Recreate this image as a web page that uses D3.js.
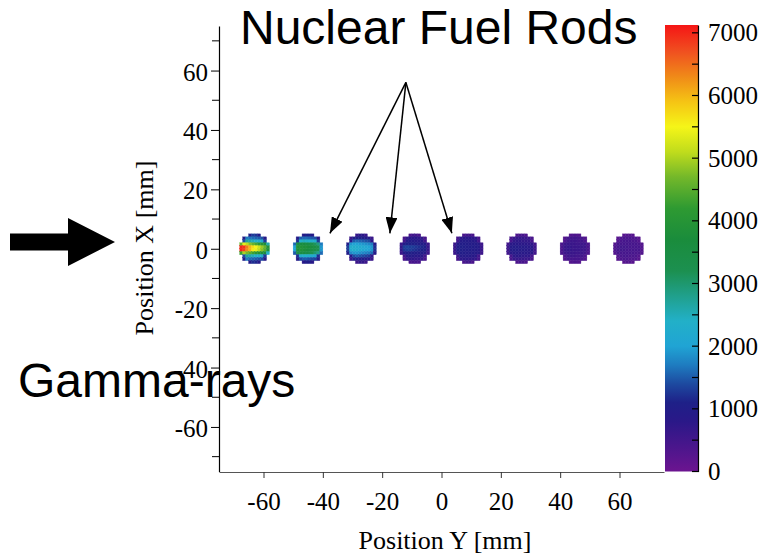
<!DOCTYPE html>
<html>
<head>
<meta charset="utf-8">
<script src="https://cdn.jsdelivr.net/npm/d3@7"></script>
<style>
  html, body { margin: 0; padding: 0; background: #fff; }
  svg { display: block; }
</style>
</head>
<body>
<svg id="chart" width="763" height="557"></svg>
<script>
// Rod centres along Y [mm]; every rod sits at X = 0
const rodCentersY = [-63, -45, -27, -9, 9, 27, 45, 63];
const rodCenterX = 0;
const binSize = 1; // mm per pixel of the 2D histogram
const rodBins = 10; // bins across a rod

// Counts per rod: rows from +X (top) to -X (bottom), each row centred on the rod
const rod1 = [
  [1000, 1300, 1250, 950],
  [1000, 1700, 1650, 1600, 1550, 1500, 1450, 900],
  [1400, 2700, 2600, 2500, 2400, 2300, 2200, 1300],
  [4600, 5400, 5100, 4800, 4600, 4400, 4200, 4000, 3800, 2600],
  [7000, 6900, 6400, 6000, 5700, 5500, 5200, 4900, 4600, 3900],
  [7000, 6800, 6300, 6000, 5600, 5400, 5100, 4800, 4500, 3800],
  [4300, 5000, 4700, 4500, 4300, 4100, 3900, 3800, 3600, 2400],
  [1400, 2700, 2600, 2500, 2400, 2300, 2200, 1300],
  [1000, 1700, 1600, 1550, 1500, 1450, 1400, 900],
  [950, 1200, 1150, 900]
];
const rod2 = [
  [900, 1100, 1100, 900],
  [900, 1500, 1600, 1600, 1550, 1500, 1450, 900],
  [1200, 2400, 2500, 2450, 2400, 2350, 2300, 1300],
  [1600, 3400, 3600, 3600, 3500, 3400, 3300, 3100, 2900, 1700],
  [2000, 3900, 3900, 3800, 3800, 3700, 3600, 3500, 3300, 1900],
  [2000, 3800, 3900, 3800, 3700, 3600, 3500, 3400, 3200, 1900],
  [1500, 3300, 3500, 3500, 3400, 3300, 3200, 3000, 2800, 1600],
  [1200, 2300, 2400, 2400, 2300, 2200, 2100, 1200],
  [900, 1400, 1500, 1500, 1450, 1400, 1350, 900],
  [850, 1000, 1000, 850]
];
const rod3 = [
  [650, 800, 800, 650],
  [600, 1000, 1100, 1100, 1050, 1000, 950, 600],
  [800, 1500, 1600, 1550, 1500, 1450, 1400, 800],
  [1000, 1900, 2000, 2000, 1950, 1900, 1850, 1800, 1700, 1000],
  [1300, 2300, 2300, 2250, 2200, 2150, 2100, 2000, 1900, 1200],
  [1300, 2200, 2300, 2250, 2200, 2100, 2050, 2000, 1900, 1200],
  [1000, 1800, 1900, 1900, 1850, 1800, 1750, 1700, 1600, 900],
  [800, 1400, 1500, 1450, 1400, 1350, 1300, 700],
  [600, 1000, 1050, 1000, 1000, 950, 900, 600],
  [550, 700, 700, 550]
];
const rod4 = [
  [400, 500, 500, 400],
  [400, 700, 800, 800, 800, 750, 700, 400],
  [500, 900, 950, 950, 900, 900, 850, 500],
  [600, 1000, 1100, 1100, 1050, 1050, 1000, 1000, 950, 600],
  [700, 1300, 1350, 1300, 1300, 1250, 1200, 1150, 1100, 650],
  [700, 1250, 1300, 1300, 1250, 1200, 1150, 1100, 1050, 650],
  [600, 1000, 1050, 1050, 1000, 1000, 950, 950, 900, 550],
  [500, 850, 900, 900, 850, 850, 800, 500],
  [400, 700, 750, 750, 700, 700, 650, 400],
  [400, 450, 450, 400]
];
const rod5 = [
  [400, 500, 500, 400],
  [450, 750, 800, 800, 800, 750, 750, 450],
  [550, 900, 950, 950, 900, 900, 850, 500],
  [600, 950, 1000, 1000, 1000, 950, 950, 950, 900, 550],
  [650, 1000, 1050, 1050, 1000, 1000, 1000, 950, 950, 600],
  [650, 1000, 1050, 1000, 1000, 1000, 950, 950, 900, 600],
  [600, 950, 1000, 1000, 950, 950, 950, 900, 900, 550],
  [550, 900, 900, 900, 900, 850, 850, 500],
  [450, 750, 800, 800, 750, 750, 700, 450],
  [400, 500, 500, 400]
];
const rod6 = [
  [350, 450, 450, 350],
  [400, 600, 650, 650, 650, 600, 600, 400],
  [450, 700, 750, 750, 700, 700, 700, 450],
  [500, 800, 850, 850, 800, 800, 800, 750, 750, 500],
  [550, 900, 950, 950, 900, 900, 900, 850, 850, 550],
  [550, 900, 950, 950, 900, 900, 850, 850, 850, 550],
  [500, 850, 900, 900, 850, 850, 850, 800, 800, 500],
  [450, 750, 800, 800, 750, 750, 750, 450],
  [400, 650, 650, 650, 650, 600, 600, 400],
  [350, 450, 450, 350]
];
const rod7 = [
  [300, 350, 350, 300],
  [300, 450, 500, 500, 500, 450, 450, 300],
  [350, 500, 550, 550, 550, 500, 500, 350],
  [400, 550, 600, 600, 600, 550, 550, 550, 550, 400],
  [400, 600, 650, 650, 600, 600, 600, 600, 550, 400],
  [400, 600, 650, 650, 600, 600, 600, 550, 550, 400],
  [400, 550, 600, 600, 600, 550, 550, 550, 500, 350],
  [350, 500, 550, 550, 500, 500, 500, 350],
  [300, 450, 450, 450, 450, 450, 400, 300],
  [300, 350, 350, 300]
];
const rod8 = [
  [250, 300, 300, 250],
  [250, 350, 400, 400, 400, 350, 350, 250],
  [300, 400, 450, 450, 450, 400, 400, 300],
  [300, 450, 450, 450, 450, 450, 450, 450, 400, 300],
  [350, 450, 500, 500, 500, 450, 450, 450, 450, 300],
  [350, 450, 500, 500, 450, 450, 450, 450, 450, 300],
  [300, 450, 450, 450, 450, 450, 450, 400, 400, 300],
  [300, 400, 450, 450, 400, 400, 400, 300],
  [250, 350, 400, 400, 350, 350, 350, 250],
  [250, 300, 300, 250]
];
const rodCounts = [rod1, rod2, rod3, rod4, rod5, rod6, rod7, rod8];

// Axis ticks
const xTickValues = [-60, -40, -20, 0, 20, 40, 60];
const yTickValues = [-60, -40, -20, 0, 20, 40, 60];
const yMinorTickValues = [-70, -50, -30, -10, 10, 30, 50, 70];
const zTickValues = [0, 1000, 2000, 3000, 4000, 5000, 6000, 7000];
const zMinorTickValues = [500, 1500, 2500, 3500, 4500, 5500, 6500];

// Palette stops (counts -> colour)
const paletteValues = [0, 400, 800, 1100, 1400, 1700, 2000, 2400, 2800, 3200, 3700, 4200, 4700, 5100, 5500, 5900, 6300, 6700, 7125];
const paletteColors = ["#6c1490", "#4a168c", "#2a1888", "#1e2088", "#1d4aa0", "#1e7cc0", "#20a4d4", "#22b0c8",
  "#20a08c", "#1c9050", "#1a8c3c", "#2e9a32", "#74b82a", "#c0dc1c", "#f5f518", "#f5c414", "#f08a18", "#f05020", "#f51515"];

// Annotation arrows toward the rods, in data units (Y, X)
const annotationStart = [-12, 56];
const annotationTargets = [[-37.6, 5.2], [-17.4, 5.2], [3.5, 5.2]];

const svg = d3.select("#chart");
const serif = "'Liberation Serif', 'Times New Roman', serif";
const sans = "'Liberation Sans', Arial, sans-serif";
const plainInt = d => String(d); // ASCII hyphen for negatives

const x = d3.scaleLinear().domain([-75, 75]).range([219, 664]);
const y = d3.scaleLinear().domain([-75, 75]).range([471.5, 26]);
const zMax = 7125;
const z = d3.scaleLinear().domain([0, zMax]).range([471.5, 25]);
const color = d3.scaleLinear().domain(paletteValues).range(paletteColors).interpolate(d3.interpolateRgb).clamp(true);

// Histogram cells
const cells = [];
rodCounts.forEach((rows, i) => {
  const cy = rodCentersY[i];
  rows.forEach((row, r) => {
    const offset = (rodBins - row.length) / 2;
    const xTop = rodCenterX + (rodBins / 2 - r) * binSize;
    row.forEach((v, c) => {
      const yLeft = cy - (rodBins / 2) * binSize + (offset + c) * binSize;
      cells.push({ y0: yLeft, y1: yLeft + binSize, x0: xTop - binSize, x1: xTop, v });
    });
  });
});

svg.append("g").selectAll("rect").data(cells).join("rect")
  .attr("x", d => x(d.y0))
  .attr("y", d => y(d.x1))
  .attr("width", d => x(d.y1) - x(d.y0))
  .attr("height", d => y(d.x0) - y(d.x1))
  .attr("fill", d => color(d.v))
  .attr("stroke", d => color(d.v))
  .attr("stroke-width", 0.4);

// Colour bar
const defs = svg.append("defs");
const grad = defs.append("linearGradient").attr("id", "zgrad")
  .attr("x1", 0).attr("y1", 1).attr("x2", 0).attr("y2", 0);
grad.selectAll("stop").data(paletteValues).join("stop")
  .attr("offset", d => d / zMax)
  .attr("stop-color", d => color(d));
svg.append("rect")
  .attr("x", 665).attr("y", z(zMax))
  .attr("width", 33).attr("height", z(0) - z(zMax))
  .attr("fill", "url(#zgrad)");

// X axis
const xAxis = svg.append("g").attr("transform", "translate(0,472)")
  .call(d3.axisBottom(x).tickValues(xTickValues).tickSize(6).tickSizeOuter(0).tickPadding(14).tickFormat(plainInt));
xAxis.select(".domain").attr("stroke", "#555").attr("stroke-width", 1.2);
xAxis.selectAll(".tick line").attr("stroke", "#333");
xAxis.selectAll("text").attr("font-family", serif).attr("font-size", 25).attr("fill", "#000");

// Y axis
const yAxis = svg.append("g").attr("transform", "translate(219,0)")
  .call(d3.axisLeft(y).tickValues(yTickValues).tickSize(8).tickSizeOuter(0).tickPadding(3).tickFormat(plainInt));
yAxis.select(".domain").attr("stroke", "#000").attr("stroke-width", 1.2);
yAxis.selectAll("text").attr("font-family", serif).attr("font-size", 25).attr("fill", "#000").attr("dy", "0.38em");
svg.append("g").attr("transform", "translate(219,0)")
  .selectAll("line").data(yMinorTickValues).join("line")
  .attr("x1", -7).attr("x2", 0)
  .attr("y1", d => y(d)).attr("y2", d => y(d))
  .attr("stroke", "#000");

// Colour bar axis
const zAxis = svg.append("g").attr("transform", "translate(698,0)")
  .call(d3.axisRight(z).tickValues(zTickValues).tickSize(0).tickSizeOuter(0).tickPadding(10).tickFormat(plainInt));
zAxis.select(".domain").attr("stroke", "#000").attr("stroke-width", 1.2);
zAxis.selectAll("text").attr("font-family", serif).attr("font-size", 25).attr("fill", "#000");
svg.append("g").attr("transform", "translate(698,0)")
  .selectAll("line").data(zTickValues.concat(zMinorTickValues)).join("line")
  .attr("x1", -6).attr("x2", 1)
  .attr("y1", d => z(d)).attr("y2", d => z(d))
  .attr("stroke", "#000").attr("stroke-width", 1.2);

// Axis titles
svg.append("text")
  .attr("x", 445).attr("y", 549)
  .attr("text-anchor", "middle")
  .attr("font-family", serif).attr("font-size", 26)
  .text("Position Y [mm]");
svg.append("text")
  .attr("transform", "translate(153,248) rotate(-90)")
  .attr("text-anchor", "middle")
  .attr("font-family", serif).attr("font-size", 26)
  .text("Position X [mm]");

// Annotation arrows
defs.append("marker").attr("id", "head")
  .attr("viewBox", "0 0 16 12").attr("refX", 16).attr("refY", 6)
  .attr("markerWidth", 16).attr("markerHeight", 12)
  .attr("markerUnits", "userSpaceOnUse")
  .attr("orient", "auto")
  .append("path").attr("d", "M0,0 L16,6 L0,12 Z").attr("fill", "#000");
svg.append("g").selectAll("line").data(annotationTargets).join("line")
  .attr("x1", x(annotationStart[0])).attr("y1", y(annotationStart[1]))
  .attr("x2", d => x(d[0])).attr("y2", d => y(d[1]))
  .attr("stroke", "#000").attr("stroke-width", 1.5)
  .attr("marker-end", "url(#head)");

// Incoming beam arrow
svg.append("path")
  .attr("d", "M10,233.5 L68,233.5 L68,218 L115,242 L68,266 L68,250.5 L10,250.5 Z")
  .attr("fill", "#000");

// Labels
svg.append("text")
  .attr("x", 240).attr("y", 44)
  .attr("font-family", sans).attr("font-size", 48).attr("fill", "#000")
  .text("Nuclear Fuel Rods");
svg.append("text")
  .attr("x", 18).attr("y", 397)
  .attr("font-family", sans).attr("font-size", 48).attr("fill", "#000")
  .text("Gamma-rays");
</script>
</body>
</html>
